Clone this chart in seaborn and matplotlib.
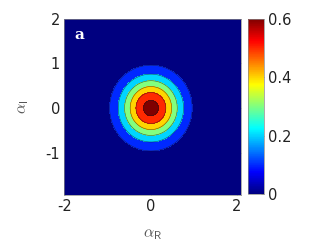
import matplotlib
matplotlib.use("Agg")
import matplotlib.pyplot as plt
from matplotlib.colors import LinearSegmentedColormap, Normalize
import numpy as np
import seaborn as sns

# Gaussian Wigner-like distribution
PEAK = 0.637          # value at the centre
CENTER = (0.0, 0.0)   # (alpha_R, alpha_I)
SPREAD = 2.0          # exponent factor: W = PEAK * exp(-SPREAD * r^2)

LEVELS = [0.0, 0.1, 0.2, 0.3, 0.4, 0.5, 0.6, 0.7]
CBAR_TICKS = [0, 0.2, 0.4, 0.6]
CBAR_LABELS = ["0", "0.2", "0.4", "0.6"]
X_TICKS = [-2, 0, 2]
Y_TICKS = [-1, 0, 1, 2]
PANEL_LABEL = "a"

sns.set_theme(style="ticks")
plt.rcParams["font.family"] = ["DejaVu Sans"]
plt.rcParams["mathtext.fontset"] = "cm"
plt.rcParams["axes.unicode_minus"] = False

xr = np.linspace(-2.1, 2.2, 301)
yi = np.linspace(-2.1, 2.2, 301)
XX, YY = np.meshgrid(xr, yi)
W = PEAK * np.exp(-SPREAD * ((XX - CENTER[0]) ** 2 + (YY - CENTER[1]) ** 2))

# MATLAB flavour of jet
cmap = LinearSegmentedColormap("mjet", {
    "red": [(0, 0, 0), (3 / 8, 0, 0), (5 / 8, 1, 1), (7 / 8, 1, 1), (1, 0.5, 0.5)],
    "green": [(0, 0, 0), (1 / 8, 0, 0), (3 / 8, 1, 1), (5 / 8, 1, 1), (7 / 8, 0, 0), (1, 0, 0)],
    "blue": [(0, 0.5, 0.5), (1 / 8, 1, 1), (3 / 8, 1, 1), (5 / 8, 0, 0), (1, 0, 0)],
}, N=256)
vmax = 0.6
# each band takes the colour of its lower level, like contourf in MATLAB
fill_colors = [cmap(min(l / vmax, 1.0)) for l in LEVELS[:-1]]

fig = plt.figure(figsize=(3.32, 2.49), dpi=100)
ax = fig.add_axes([0.193, 0.217, 0.533, 0.707])
cax = fig.add_axes([0.747, 0.221, 0.048, 0.703])

ax.contourf(XX, YY, W, levels=LEVELS, colors=fill_colors)
ax.contour(XX, YY, W, levels=LEVELS[1:-1], colors="k", linewidths=0.4, alpha=0.7)

ax.set_xlim(-2.023, 2.1)
ax.set_ylim(-1.95, 2.0)
ax.set_xticks(X_TICKS)
ax.set_yticks(Y_TICKS)
ax.tick_params(direction="in", length=3, width=0.5, top=True, right=True,
               labelsize=10.5, colors="#888888", labelcolor="#222222", pad=3)
for s in ax.spines.values():
    s.set_linewidth(0.5)
    s.set_color("#888888")

ax.set_xlabel(r"$\alpha_{\mathsf{R}}$", fontsize=11.5, color="#555555", labelpad=9)
ax.set_ylabel(r"$\alpha_{\mathsf{I}}$", fontsize=11.5, color="#555555", labelpad=10)
ax.text(0.056, 0.91, PANEL_LABEL, transform=ax.transAxes, color="white",
        fontsize=11, family="DejaVu Serif", fontweight="bold", va="center")

sm = matplotlib.cm.ScalarMappable(norm=Normalize(0, vmax), cmap=cmap)
cb = fig.colorbar(sm, cax=cax, ticks=CBAR_TICKS)
cb.ax.set_yticklabels(CBAR_LABELS)
cb.ax.tick_params(direction="in", length=2, width=0.5, labelsize=10.5,
                  colors="#888888", labelcolor="#222222", pad=3)
cb.outline.set_linewidth(0.5)
cb.outline.set_edgecolor("#888888")

fig.savefig("out.png", dpi=100)
